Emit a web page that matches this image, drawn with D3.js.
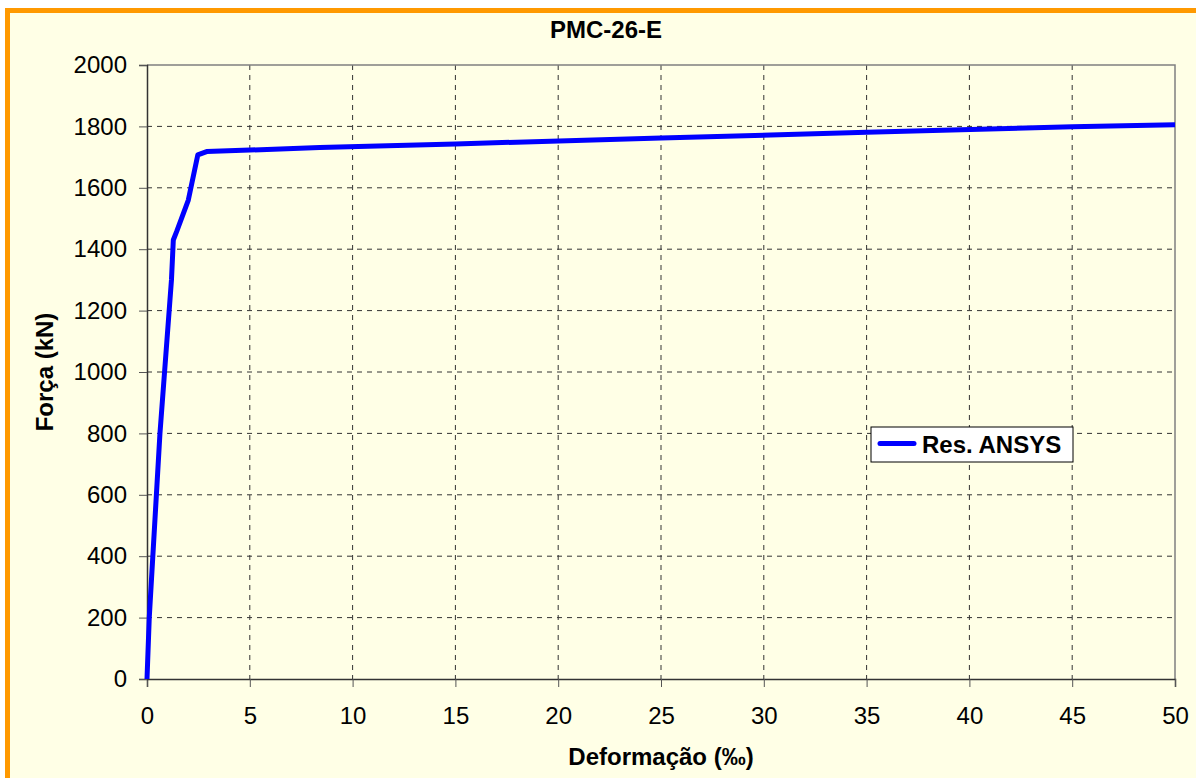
<!DOCTYPE html>
<html>
<head>
<meta charset="utf-8">
<script src="https://cdn.jsdelivr.net/npm/d3@7"></script>
<style>
  body { margin: 0; background: #fff; }
  text { font-family: Arial, "Liberation Sans", sans-serif; }
</style>
</head>
<body>
<svg id="chart"></svg>
<script>
// data
const strain = [0, 0.11, 0.63, 1.19, 1.28, 1.44, 2.01, 2.47, 2.9, 5, 8.4, 15, 25, 35, 45, 50];
const force = [0, 200, 800, 1300, 1430, 1457, 1560, 1707, 1718, 1723, 1731, 1743, 1762, 1781, 1799, 1805];
const xTicks = [0, 5, 10, 15, 20, 25, 30, 35, 40, 45, 50];
const yTicks = [0, 200, 400, 600, 800, 1000, 1200, 1400, 1600, 1800, 2000];
const seriesName = 'Res. ANSYS';

const width = 1196, height = 778;
const fontSize = 24;
const svg = d3.select('#chart').attr('width', width).attr('height', height);

// outer frame, orange border runs off the right/bottom edge
svg.append('rect')
  .attr('x', 7.5).attr('y', 10.5)
  .attr('width', width + 20).attr('height', height + 20)
  .attr('fill', '#ffffe6')
  .attr('stroke', '#ff9900').attr('stroke-width', 5);

const plot = {left: 147, top: 65, right: 1175, bottom: 679};

const x = d3.scaleLinear().domain([0, 50]).range([plot.left, plot.right]);
const y = d3.scaleLinear().domain([0, 2000]).range([plot.bottom, plot.top]);

// gridlines
svg.append('g').selectAll('line')
  .data(yTicks.filter(d => d > 0 && d < 2000))
  .enter().append('line')
  .attr('x1', plot.left).attr('x2', plot.right)
  .attr('y1', d => y(d)).attr('y2', d => y(d))
  .attr('stroke', '#333').attr('stroke-dasharray', '5,5');

svg.append('g').selectAll('line')
  .data(xTicks.filter(d => d > 0 && d < 50))
  .enter().append('line')
  .attr('y1', plot.top).attr('y2', plot.bottom)
  .attr('x1', d => x(d)).attr('x2', d => x(d))
  .attr('stroke', '#333').attr('stroke-dasharray', '5,5');

// gray frame on top/right
svg.append('path')
  .attr('d', `M${plot.left},${plot.top}H${plot.right}V${plot.bottom}`)
  .attr('fill', 'none').attr('stroke', '#808080').attr('stroke-width', 1.5);

// axes
const xAxis = svg.append('g')
  .attr('transform', `translate(0,${plot.bottom})`)
  .call(d3.axisBottom(x).tickValues(xTicks).tickSize(8).tickPadding(20).tickFormat(d3.format('d')));
const yAxis = svg.append('g')
  .attr('transform', `translate(${plot.left},0)`)
  .call(d3.axisLeft(y).tickValues(yTicks).tickSize(8).tickPadding(12).tickFormat(d3.format('d')));

[xAxis, yAxis].forEach(a => {
  a.attr('font-size', fontSize).attr('font-family', 'Arial, "Liberation Sans", sans-serif');
  a.select('.domain').attr('stroke', '#333').attr('stroke-width', 1.5);
  a.selectAll('.tick line').attr('stroke', '#555');
  a.selectAll('.tick text').attr('fill', '#000');
});

// the curve
const line = d3.line().x((d, i) => x(strain[i])).y(d => y(d));
svg.append('path')
  .datum(force)
  .attr('d', line)
  .attr('fill', 'none')
  .attr('stroke', '#0000ff')
  .attr('stroke-width', 5)
  .attr('stroke-linejoin', 'round');

// titles
svg.append('text')
  .attr('x', 606).attr('y', 38)
  .attr('text-anchor', 'middle')
  .attr('font-size', fontSize).attr('font-weight', 'bold')
  .text('PMC-26-E');

svg.append('text')
  .attr('x', 661).attr('y', 765)
  .attr('text-anchor', 'middle')
  .attr('font-size', fontSize).attr('font-weight', 'bold')
  .text('Deformação (‰)');

svg.append('text')
  .attr('transform', `translate(53,${(plot.top + plot.bottom) / 2}) rotate(-90)`)
  .attr('text-anchor', 'middle')
  .attr('font-size', fontSize).attr('font-weight', 'bold')
  .text('Força (kN)');

// legend
const legend = svg.append('g').attr('transform', 'translate(871,427)');
legend.append('rect')
  .attr('width', 202).attr('height', 35)
  .attr('fill', '#fff').attr('stroke', '#000').attr('stroke-width', 1);
legend.append('line')
  .attr('x1', 9).attr('x2', 43).attr('y1', 16.5).attr('y2', 16.5)
  .attr('stroke', '#0000ff').attr('stroke-width', 5).attr('stroke-linecap', 'round');
legend.append('text')
  .attr('x', 51).attr('y', 26)
  .attr('font-size', fontSize).attr('font-weight', 'bold')
  .text(seriesName);
</script>
</body>
</html>
